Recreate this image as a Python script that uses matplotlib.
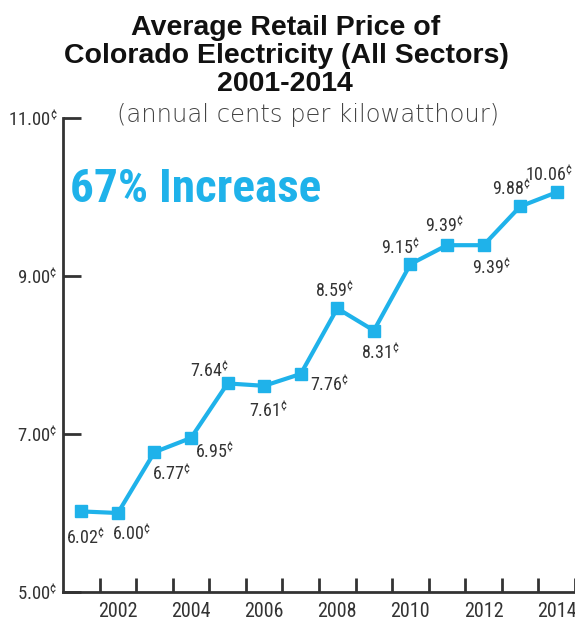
import numpy as np
import matplotlib
matplotlib.use('Agg')
import matplotlib.pyplot as plt
from matplotlib import font_manager

# annual average retail price, cents per kWh
years = [2001, 2002, 2003, 2004, 2005, 2006, 2007, 2008, 2009, 2010, 2011, 2012, 2013, 2014]
prices = [6.02, 6.00, 6.77, 6.95, 7.64, 7.61, 7.76, 8.59, 8.31, 9.15, 9.39, 9.39, 9.88, 10.06]

# label offsets in pixels (dx, dy) for each point
label_offsets = [(4, -27), (14, -21), (17, -22), (23, -14), (-18, 12), (4, -25), (29, -11),
                 (-3, 17), (7, -23), (-10, 16), (-3, 19), (8, -23), (-9, 17), (-8, 17)]

y_ticks = [5.0, 7.0, 9.0, 11.0]
x_labels = [2002, 2004, 2006, 2008, 2010, 2012, 2014]

BLUE = '#1fb2ea'
DARK = '#333333'

# pick a narrow face for the numbers if one is around
have = {f.name for f in font_manager.fontManager.ttflist}
NARROW = next((n for n in ['Liberation Sans Narrow', 'DejaVu Sans Condensed', 'Roboto Condensed',
                           'Open Sans Condensed', 'Roboto'] if n in have), 'DejaVu Sans')

plt.rcParams['mathtext.fontset'] = 'custom'
plt.rcParams['mathtext.rm'] = NARROW
plt.rcParams['mathtext.it'] = NARROW
plt.rcParams['mathtext.bf'] = NARROW

fig = plt.figure(figsize=(5.75, 6.22), dpi=100)
ax = fig.add_axes([63/575, 1 - 592/622, 512/575, (592 - 118)/622])

ax.plot(years, prices, color=BLUE, linewidth=3, marker='s', markersize=8,
        markerfacecolor=BLUE, markeredgecolor=BLUE, zorder=3)

for yr, p, (dx, dy) in zip(years, prices, label_offsets):
    ax.annotate(f'{p:.2f}' + r'$^{¢}$', (yr, p), xytext=(dx, dy), textcoords='offset pixels',
                ha='center', va='center', fontsize=13, family=NARROW, color=DARK)

ax.set_xlim(2000.5, 2014.5)
ax.set_ylim(5.0, 11.0)

for s in ['top', 'right']:
    ax.spines[s].set_visible(False)
for s in ['left', 'bottom']:
    ax.spines[s].set_color(DARK)
    ax.spines[s].set_linewidth(2)

# ticks sit on the year boundaries, labels on every other year
ax.set_xticks(np.arange(2001.5, 2015, 1.0))
ax.set_xticklabels([])
ax.set_xticks(x_labels, minor=True)
ax.set_xticklabels([str(x) for x in x_labels], minor=True)
ax.tick_params(axis='x', which='major', direction='in', length=10, width=2, color=DARK)
ax.tick_params(axis='x', which='minor', length=0, pad=7, labelsize=14.5, labelcolor=DARK)
for lab in ax.get_xticklabels(minor=True):
    lab.set_family(NARROW)

ax.set_yticks(y_ticks)
ax.set_yticklabels([f'{v:.2f}' + r'$^{¢}$' for v in y_ticks])
ax.tick_params(axis='y', direction='in', length=13, width=2, color=DARK, pad=4,
               labelsize=13.5, labelcolor=DARK)
for lab in ax.get_yticklabels():
    lab.set_family(NARROW)

fig.text(286/575, 1 - 28/622, 'Average Retail Price of', ha='center', va='center',
         fontsize=20.5, fontweight='bold', family='Liberation Sans', color='#111111')
fig.text(286/575, 1 - 56/622, 'Colorado Electricity (All Sectors)', ha='center', va='center',
         fontsize=20.5, fontweight='bold', family='Liberation Sans', color='#111111')
fig.text(285/575, 1 - 84/622, '2001-2014', ha='center', va='center',
         fontsize=20.5, fontweight='bold', family='Liberation Sans', color='#111111')
fig.text(308/575, 1 - 115/622, '(annual cents per kilowatthour)', ha='center', va='center',
         fontsize=17.5, fontweight='light', family='DejaVu Sans', color='#444444')

fig.text(70/575, 1 - 189/622, '67% Increase', ha='left', va='center',
         fontsize=34, fontweight='bold', family=NARROW, color=BLUE)

fig.savefig('out.png', dpi=100)
